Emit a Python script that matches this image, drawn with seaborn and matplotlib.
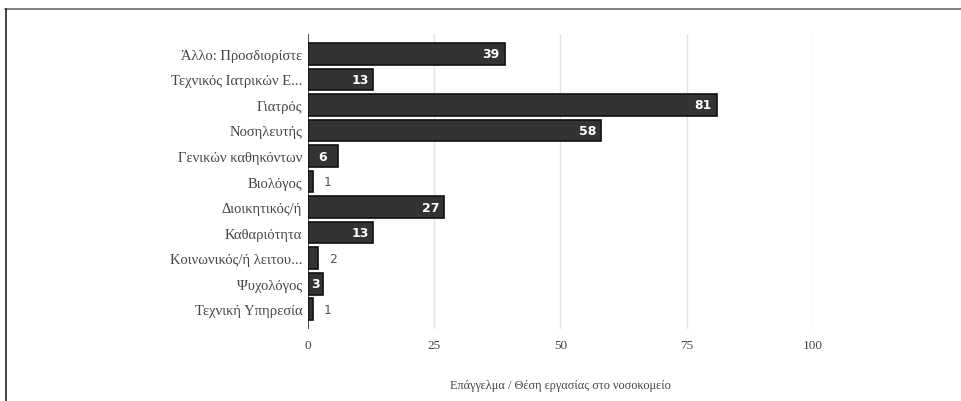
import matplotlib
matplotlib.use("Agg")
import matplotlib.pyplot as plt
from matplotlib.lines import Line2D
import seaborn as sns
import pandas as pd

# επαγγέλματα και πλήθος απαντήσεων
categories = [
    "Άλλο: Προσδιορίστε",
    "Τεχνικός Ιατρικών Ε...",
    "Γιατρός",
    "Νοσηλευτής",
    "Γενικών καθηκόντων",
    "Βιολόγος",
    "Διοικητικός/ή",
    "Καθαριότητα",
    "Κοινωνικός/ή λειτου...",
    "Ψυχολόγος",
    "Τεχνική Υπηρεσία",
]
counts = [39, 13, 81, 58, 6, 1, 27, 13, 2, 3, 1]
xticks = [0, 25, 50, 75, 100]
xlabel = "Επάγγελμα / Θέση εργασίας στο νοσοκομείο"

df = pd.DataFrame({"cat": categories, "n": counts})

sns.set_style("white")
plt.rcParams["font.family"] = ["Liberation Serif", "DejaVu Serif"]

fig = plt.figure(figsize=(9.62, 4.02), dpi=100)
ax = fig.add_axes([0.320, 0.178, 0.525, 0.736])

sns.barplot(data=df, x="n", y="cat", orient="h", color="#333333",
            width=0.86, edgecolor="#111111", linewidth=1.2,
            saturation=1, ax=ax, zorder=3)

ax.set_xlim(0, 100)
ax.set_ylim(len(categories) - 0.2, -0.8)
ax.set_xticks(xticks)
ax.set_xticklabels([str(t) for t in xticks])
ax.grid(axis="x", color="#e4e4e4", linewidth=1, zorder=0)
ax.axvline(0, color="#333333", linewidth=1.2, zorder=2)
for s in ax.spines.values():
    s.set_visible(False)
ax.tick_params(axis="both", length=0, colors="#444444")
ax.tick_params(axis="x", labelsize=9.5, pad=7)
ax.tick_params(axis="y", labelsize=10.5, pad=4)
ax.set_ylabel("")
ax.set_xlabel(xlabel, fontsize=8.8, color="#444444", labelpad=20)

# value labels: white inside for bigger bars, grey outside for small ones
bars = ax.containers[0]
inside_end = [str(v) if v >= 10 else "" for v in counts]
inside_mid = [str(v) if 3 <= v < 10 else "" for v in counts]
outside = [str(v) if v < 3 else "" for v in counts]
ax.bar_label(bars, labels=inside_end, label_type="edge", padding=-16,
             color="white", fontsize=9, fontweight="bold",
             family="DejaVu Sans", zorder=4)
ax.bar_label(bars, labels=inside_mid, label_type="center",
             color="white", fontsize=9, fontweight="bold",
             family="DejaVu Sans", zorder=4)
ax.bar_label(bars, labels=outside, label_type="edge", padding=8,
             color="#555555", fontsize=9, family="DejaVu Sans")

# frame lines of the page
fig.add_artist(Line2D([0.005, 1.0], [0.975, 0.975], transform=fig.transFigure,
                      color="#666666", linewidth=1.2))
fig.add_artist(Line2D([0.006, 0.006], [0.0, 0.975], transform=fig.transFigure,
                      color="#222222", linewidth=1.2))

fig.savefig("out.png", dpi=100)
